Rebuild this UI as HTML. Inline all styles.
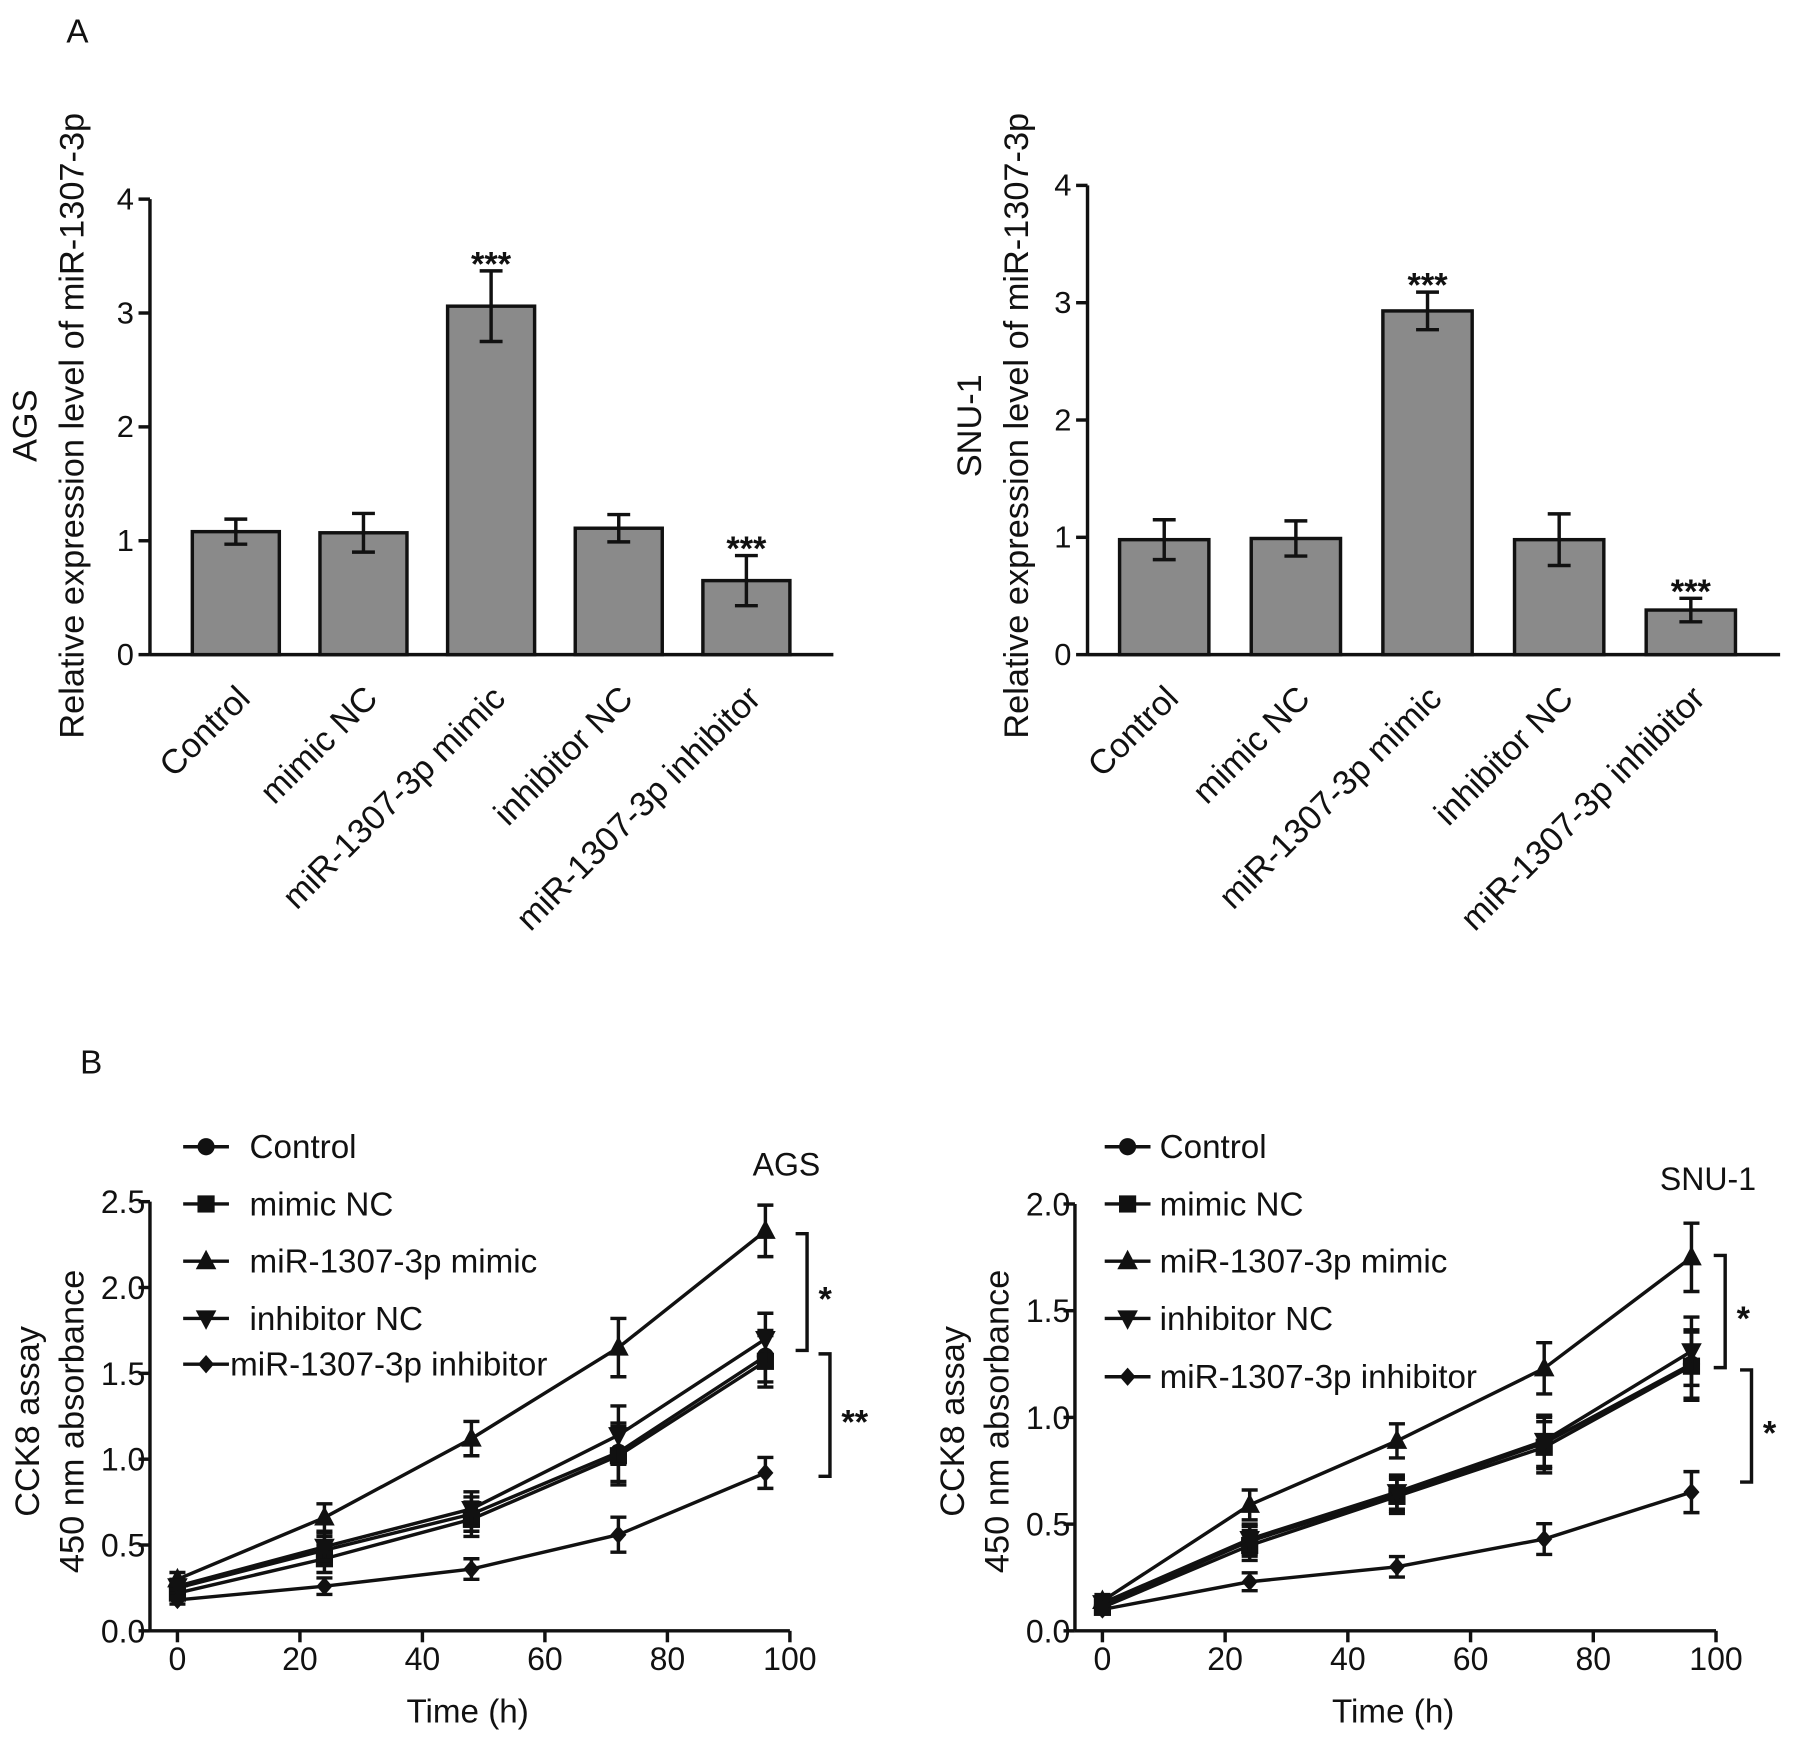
<!DOCTYPE html>
<html><head><meta charset="utf-8"><style>
html,body{margin:0;padding:0;background:#fff}
svg{display:block}
text{font-family:"Liberation Sans",Arial,sans-serif;fill:#111}
</style></head><body>
<svg id="fig" width="1795" height="1743" viewBox="0 0 1568 1523" preserveAspectRatio="none" xmlns="http://www.w3.org/2000/svg">
<text x="58" y="37" font-size="29">A</text>
<text x="70" y="938" font-size="29">B</text>
<g id="g"></g>
</svg>
<script>
const barCats=["Control","mimic NC","miR-1307-3p mimic","inhibitor NC","miR-1307-3p inhibitor"];
const agsBarVals=[1.08,1.07,3.06,1.11,0.65];
const agsBarErr=[0.11,0.17,0.31,0.12,0.22];
const snuBarVals=[0.98,0.99,2.93,0.98,0.38];
const snuBarErr=[0.17,0.15,0.16,0.22,0.1];
const barTicks=[0,1,2,3,4];
const times=[0,24,48,72,96];
const xTicks=[0,20,40,60,80,100];
const seriesNames=["Control","mimic NC","miR-1307-3p mimic","inhibitor NC","miR-1307-3p inhibitor"];
const agsControl=[0.25,0.47,0.68,1.04,1.60];
const agsMimicNC=[0.22,0.42,0.65,1.02,1.57];
const agsMimic=[0.30,0.66,1.12,1.65,2.33];
const agsInhNC=[0.26,0.49,0.71,1.14,1.70];
const agsInh=[0.18,0.26,0.36,0.56,0.92];
const agsErr=[0.04,0.08,0.1,0.17,0.15];
const snuControl=[0.12,0.42,0.64,0.88,1.25];
const snuMimicNC=[0.11,0.40,0.63,0.86,1.24];
const snuMimic=[0.14,0.59,0.89,1.23,1.75];
const snuInhNC=[0.13,0.43,0.65,0.89,1.31];
const snuInh=[0.10,0.23,0.30,0.43,0.65];
const snuErr=[0.03,0.07,0.08,0.12,0.16];
const agsLineTicks=[0,0.5,1,1.5,2,2.5];
const snuLineTicks=[0,0.5,1,1.5,2];

const NS="http://www.w3.org/2000/svg";
const root=document.getElementById('g');
function el(tag,attrs,parent,txt){const e=document.createElementNS(NS,tag);for(const k in attrs)e.setAttribute(k,attrs[k]);if(txt!==undefined)e.textContent=txt;(parent||root).appendChild(e);return e;}
const S={stroke:"#111","stroke-width":3,fill:"none"};

function barChart(o){
  const g=el('g',{});
  
  
  const y=v=>o.y0-(v/4)*(o.y0-o.y4);
  el('line',{x1:o.ax,y1:o.y0,x2:o.ax,y2:y(4),...S},g);
  el('line',{x1:o.ax,y1:o.y0,x2:o.axEnd,y2:o.y0,...S},g);
  barTicks.forEach(t=>{el('line',{x1:o.ax-10,x2:o.ax,y1:y(t),y2:y(t),...S},g);
    const tx=el('text',{x:o.ax-14,y:y(t)+9,"font-size":27,"text-anchor":"end"},g,String(t));
    });
  const step=o.step;
  o.vals.forEach((v,i)=>{
    const cx=o.first+i*step;
    const r=el('rect',{x:cx-o.bw/2,y:y(v),width:o.bw,height:o.y0-y(v),fill:"#8a8a8a",stroke:"#111","stroke-width":3},g);
    
    const e=o.err[i];
    el('line',{x1:cx,x2:cx,y1:y(v-e),y2:y(v+e),...S},g);
    el('line',{x1:cx-10,x2:cx+10,y1:y(v+e),y2:y(v+e),...S},g);
    el('line',{x1:cx-10,x2:cx+10,y1:y(v-e),y2:y(v-e),...S},g);
    if(i==2||i==4){const s=el('text',{x:cx,y:y(v+e)+4,"font-size":30,"font-weight":"bold","text-anchor":"middle"},g,"***");
      }
    const lb=el('text',{x:0,y:0,"font-size":30,"text-anchor":"end",transform:`translate(${cx+14},${o.y0+40}) rotate(-45)`},g,barCats[i]);
    
  });
  const t1=el('text',{x:0,y:0,"font-size":30,"text-anchor":"middle",transform:`translate(${o.tx1},372) rotate(-90)`},g,o.cell);
  
  const t2=el('text',{x:0,y:0,"font-size":30,"text-anchor":"middle",transform:`translate(${o.tx1+41},372) rotate(-90)`},g,"Relative expression level of miR-1307-3p");
  
}
barChart({name:'ags-bar-chart',ax:131,axEnd:728,y0:572,y4:174,first:206,step:111.5,bw:76,vals:agsBarVals,err:agsBarErr,cell:"AGS",tx1:32});
barChart({name:'snu1-bar-chart',ax:950,axEnd:1555,y0:572,y4:162,first:1017,step:115,bw:78,vals:snuBarVals,err:snuBarErr,cell:"SNU-1",tx1:857});

function marker(g,type,x,y){
  let m;
  if(type==0)m=el('circle',{cx:x,cy:y,r:7.5,fill:"#111"},g);
  else if(type==1)m=el('rect',{x:x-7.5,y:y-7.5,width:15,height:15,fill:"#111"},g);
  else if(type==2)m=el('polygon',{points:`${x},${y-10} ${x-9},${y+7} ${x+9},${y+7}`,fill:"#111"},g);
  else if(type==3)m=el('polygon',{points:`${x},${y+10} ${x-9},${y-7} ${x+9},${y-7}`,fill:"#111"},g);
  else m=el('polygon',{points:`${x},${y-8} ${x-7},${y} ${x},${y+8} ${x+7},${y}`,fill:"#111"},g);
  return m;
}
function lineChart(o){
  const g=el('g',{});
  
  
  const X=t=>o.x0+t/100*(o.x100-o.x0);
  const Y=v=>o.y0-v*o.ppu;
  const top=o.ticks[o.ticks.length-1];
  el('line',{x1:o.ax,y1:o.y0,x2:o.ax,y2:Y(top),...S},g);
  el('line',{x1:o.ax,y1:o.y0,x2:o.x100,y2:o.y0,...S},g);
  o.ticks.forEach(t=>{el('line',{x1:o.ax-10,x2:o.ax,y1:Y(t),y2:Y(t),...S},g);
    const tx=el('text',{x:o.ax-4,y:Y(t)+10,"font-size":28,"text-anchor":"end"},g,t.toFixed(1));
    });
  xTicks.forEach(t=>{el('line',{x1:X(t),x2:X(t),y1:o.y0,y2:o.y0+10,...S},g);
    const tx=el('text',{x:X(t),y:o.y0+34,"font-size":28,"text-anchor":"middle"},g,String(t));
    });
  const xt=el('text',{x:(o.ax+o.x100)/2-2,y:o.y0+80,"font-size":29,"text-anchor":"middle"},g,"Time (h)");
  
  const yt1=el('text',{x:0,y:0,"font-size":30,"text-anchor":"middle",transform:`translate(${o.ax-97},1242) rotate(-90)`},g,"CCK8 assay");
  
  const yt2=el('text',{x:0,y:0,"font-size":30,"text-anchor":"middle",transform:`translate(${o.ax-58},1242) rotate(-90)`},g,"450 nm absorbance");
  
  o.series.forEach((s,si)=>{
    const sg=el('g',{},g);
    
    el('polyline',{points:s.map((v,i)=>X(times[i])+","+Y(v)).join(" "),...S},sg);
    s.forEach((v,i)=>{const x=X(times[i]),e=o.err[i]*(si==4?0.6:1);
      el('line',{x1:x,x2:x,y1:Y(v-e),y2:Y(v+e),...S},sg);
      el('line',{x1:x-7,x2:x+7,y1:Y(v+e),y2:Y(v+e),...S},sg);
      el('line',{x1:x-7,x2:x+7,y1:Y(v-e),y2:Y(v-e),...S},sg);
      marker(sg,si,x,Y(v));});
  });
  o.legendY.forEach((ly,i)=>{
    const lg=el('g',{},g);
    
    el('line',{x1:o.lx,x2:o.lx+40,y1:ly,y2:ly,...S},lg);
    marker(lg,i,o.lx+20,ly);
    el('text',{x:(i==4&&o.shift)?o.lx+41:o.lx+o.tOff,y:ly+10,"font-size":29},lg,seriesNames[i]);
  });
  const tt=el('text',{x:o.titleX,y:o.titleY,"font-size":28,"text-anchor":"middle"},g,o.title);
  
  o.brackets.forEach(b=>{
    const bg=el('g',{},g);
    
    el('polyline',{points:`${b[0]},${b[1]} ${b[0]+10},${b[1]} ${b[0]+10},${b[2]} ${b[0]},${b[2]}`,...S},bg);
    el('text',{x:b[0]+20,y:(b[1]+b[2])/2+16,"font-size":30,"font-weight":"bold"},bg,b[3]);
  });
}
lineChart({name:'ags-cck8-chart',ax:131,x0:155,x100:690,y0:1425,ppu:150,ticks:agsLineTicks,tOff:58,
  series:[agsControl,agsMimicNC,agsMimic,agsInhNC,agsInh],err:agsErr,lx:160,legendY:[1002,1052,1102,1152,1192],shift:true,
  title:"AGS",titleX:687,titleY:1027,brackets:[[695,1078,1180,"*"],[715,1183,1290,"**"]]});
lineChart({name:'snu1-cck8-chart',ax:939,x0:963,x100:1499,y0:1425,ppu:186.5,ticks:snuLineTicks,tOff:48,
  series:[snuControl,snuMimicNC,snuMimic,snuInhNC,snuInh],err:snuErr,lx:965,legendY:[1002,1052,1102,1152,1203],shift:false,
  title:"SNU-1",titleX:1492,titleY:1040,brackets:[[1497,1097,1195,"*"],[1520,1197,1295,"*"]]});
</script>
</body></html>
